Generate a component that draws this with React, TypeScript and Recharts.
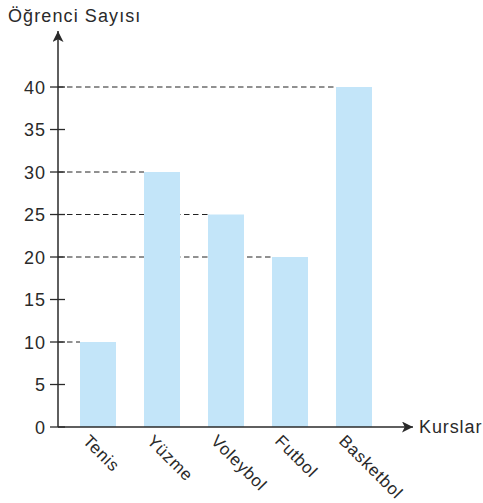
import { BarChart, Bar, XAxis, YAxis, ReferenceLine } from "recharts";

const courses = ["Tenis", "Yüzme", "Voleybol", "Futbol", "Basketbol"];
const students = [10, 30, 25, 20, 40];
const yTicks = [0, 5, 10, 15, 20, 25, 30, 35, 40];

const data = courses.map((name, i) => ({ name, value: students[i] }));

const AXIS_X = 58;
const BAR_SIZE = 36;
const INK = "#2a2a2a";
const FONT = "'Liberation Sans', Arial, sans-serif";

function YTick({ x, y, payload }: any) {
  return (
    <g>
      <line x1={x} x2={x + 15} y1={y} y2={y} stroke={INK} strokeWidth={1.3} />
      <text
        x={x - 4}
        y={y}
        dy={6.5}
        textAnchor="end"
        fill={INK}
        fontSize={18}
        letterSpacing={1}
        fontFamily={FONT}
      >
        {payload.value}
      </text>
    </g>
  );
}

function XTick({ x, y, payload }: any) {
  return (
    <g transform={`translate(${x - 16}, ${y + 15}) rotate(45)`}>
      <text x={0} y={0} textAnchor="start" fill={INK} fontSize={17} letterSpacing={0.8} fontFamily={FONT}>
        {payload.value}
      </text>
    </g>
  );
}

// dashed guide from the y axis to the left edge of the bar
function GuideLine(props: any) {
  const { y1, x2 } = props;
  return (
    <line
      x1={AXIS_X}
      x2={x2 - BAR_SIZE / 2}
      y1={y1}
      y2={y1}
      stroke="#222"
      strokeWidth={1}
      strokeDasharray="5.5 3.5"
    />
  );
}

export default function App() {
  return (
    <div style={{ position: "absolute", left: 0, top: 0, width: 483, height: 503, background: "#fff" }}>
      <BarChart
        width={483}
        height={503}
        data={data}
        margin={{ top: 31, right: 70, bottom: 0, left: 0 }}
      >
        <defs>
          <marker
            id="arrow"
            viewBox="0 0 10 10"
            refX={10}
            refY={5}
            markerWidth={11}
            markerHeight={11}
            markerUnits="userSpaceOnUse"
            orient="auto-start-reverse"
          >
            <path d="M0,0 L10,5 L0,10 L2.5,5 z" fill={INK} />
          </marker>
        </defs>
        <XAxis
          dataKey="name"
          height={76}
          padding={{ left: 8, right: 27 }}
          tickLine={false}
          tickSize={0}
          tickMargin={0}
          interval={0}
          axisLine={{ stroke: INK, strokeWidth: 1.5, markerEnd: "url(#arrow)" }}
          tick={<XTick />}
        />
        <YAxis
          width={58}
          domain={[0, 46.59]}
          ticks={yTicks}
          allowDataOverflow
          tickLine={false}
          axisLine={{ stroke: INK, strokeWidth: 1.5, markerStart: "url(#arrow)" }}
          tick={<YTick />}
        />
        {data.map((d) => (
          <ReferenceLine
            key={d.name}
            segment={[{ x: courses[0], y: d.value }, { x: d.name, y: d.value }]}
            shape={<GuideLine />}
            zIndex={0}
          />
        ))}
        <Bar dataKey="value" fill="#c3e5f9" barSize={BAR_SIZE} isAnimationActive={false} />
        <text x={8} y={22} fill={INK} fontSize={18} letterSpacing={1.1} fontFamily={FONT}>
          Öğrenci Sayısı
        </text>
        <text x={419} y={433} fill={INK} fontSize={18} letterSpacing={0.9} fontFamily={FONT}>
          Kurslar
        </text>
      </BarChart>
    </div>
  );
}
